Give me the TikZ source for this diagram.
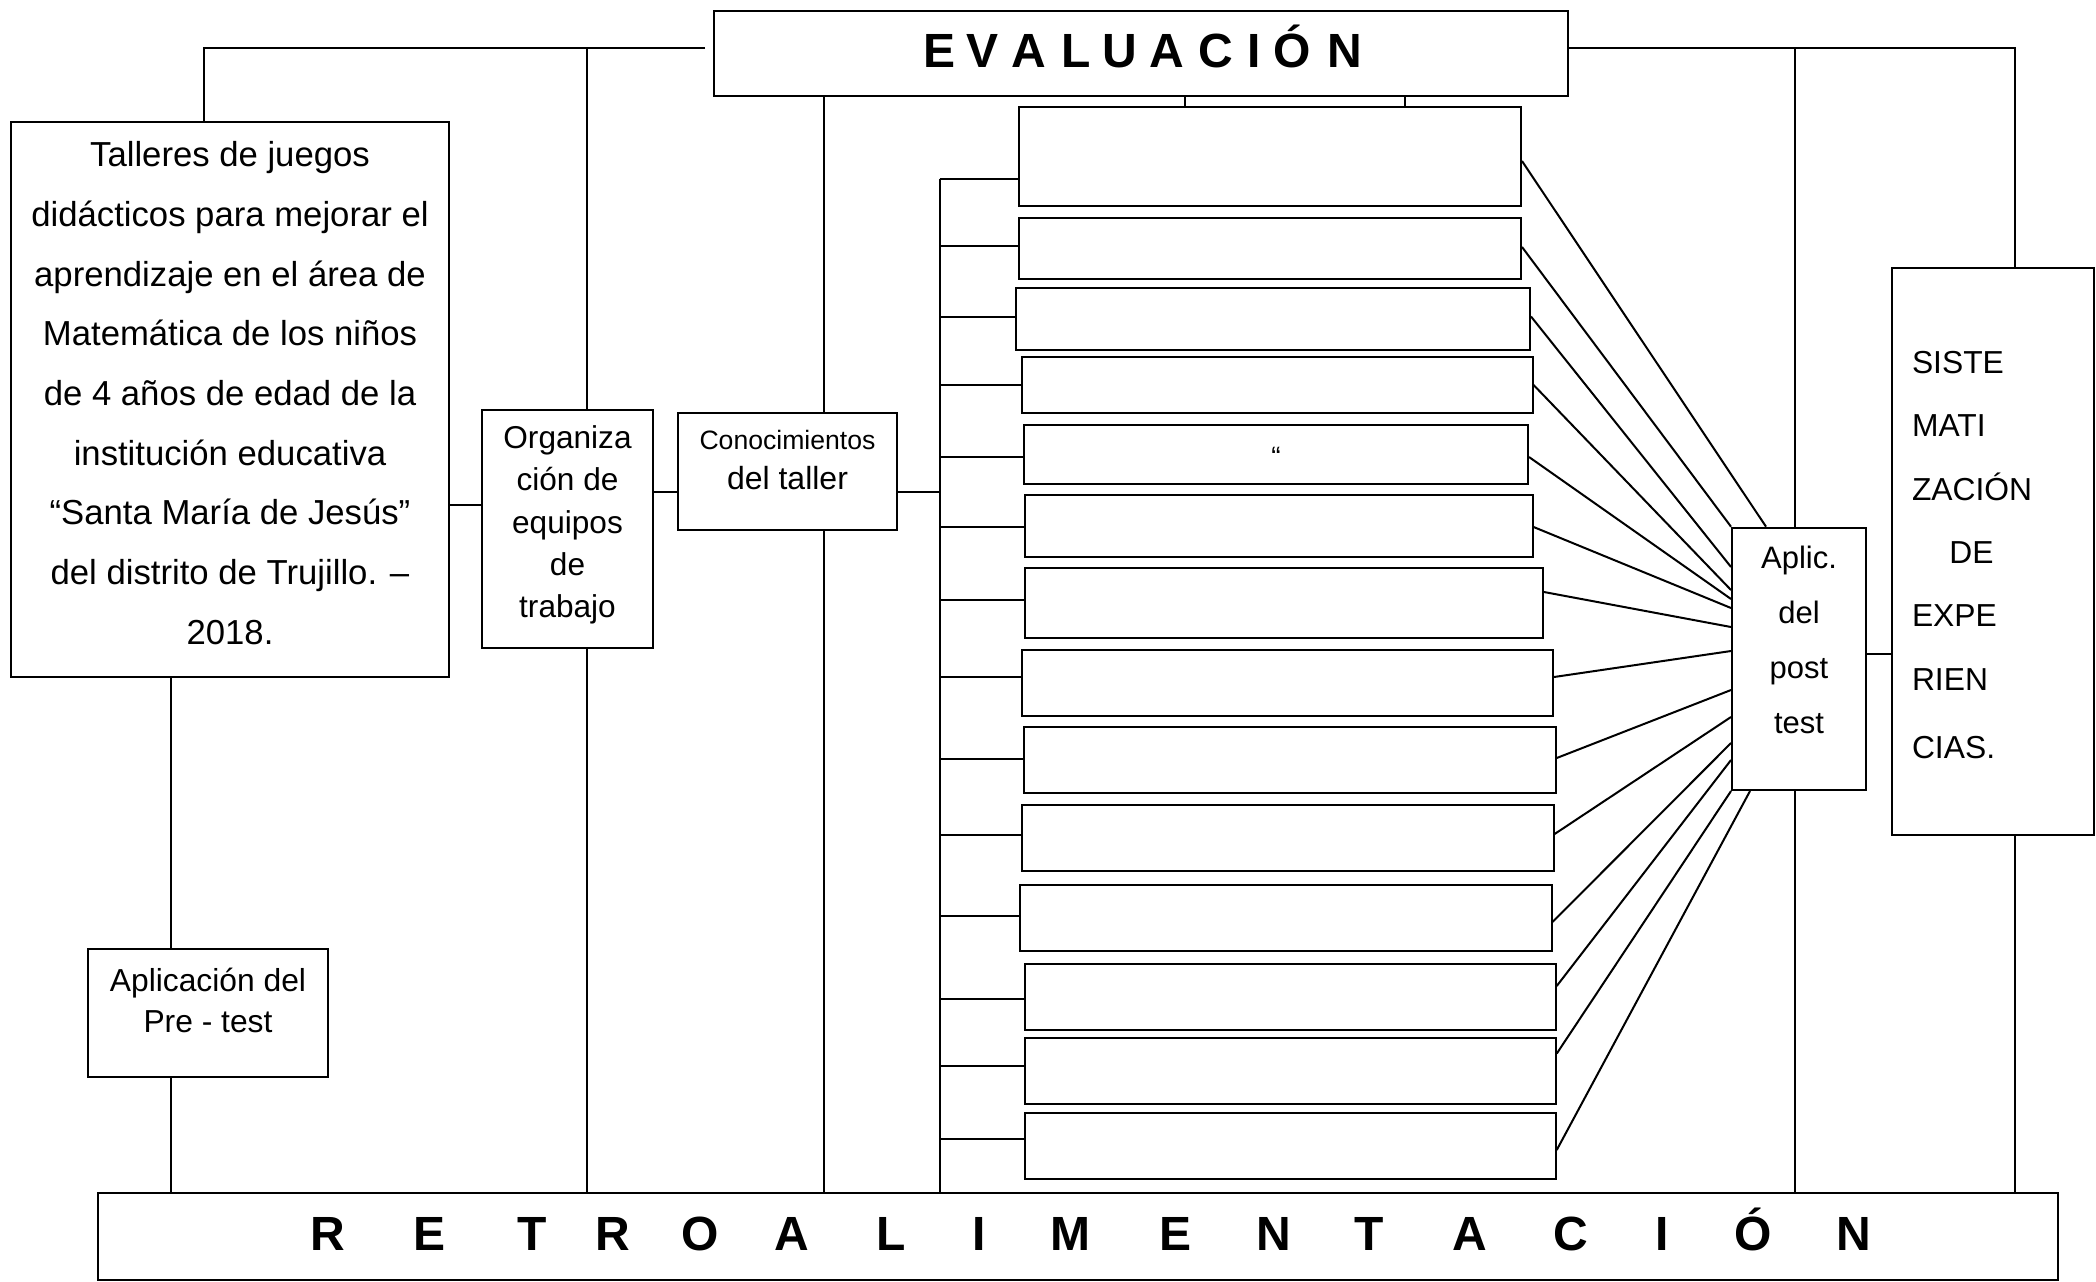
\documentclass[tikz,border=0pt]{standalone}
\usepackage{fontspec}
\setmainfont{Liberation Sans}
\usetikzlibrary{fit}
\begin{document}
\begin{tikzpicture}[x=0.5pt,y=-0.5pt,
  box/.style={draw, line width=1pt, inner sep=0pt, rectangle},
  ln/.style={line width=1pt},
  txt/.style={inner sep=0pt, align=center},
  big/.style={font=\bfseries\fontsize{24}{28}\selectfont, inner sep=0pt, anchor=base}]
\useasboundingbox (0,0) rectangle (2096,1281);
\fill[white] (0,0) rectangle (2096,1281);

% main boxes
\node[box, fit={(714,11) (1568,95.5)}] (eval) {};
\node[box, fit={(98,1193) (2058,1280)}] (retro) {};
\node[box, fit={(11,122) (449,677)}] (talleres) {};
\node[box, fit={(482,410) (653,648)}] (org) {};
\node[box, fit={(678,413) (897,530)}] (conoc) {};
\node[box, fit={(88,949) (328,1077)}] (pre) {};
\node[box, fit={(1732,527.7) (1866,790)}] (aplic) {};
\node[box, fit={(1892,268) (2094,835)}] (siste) {};

% 14 empty boxes
\foreach \xa/\ya/\xb/\yb [count=\i] in {
  1019/107/1521/206, 1019/218/1521/278.6, 1016/287.5/1530/350,
  1021.7/357/1532.6/413, 1024/424.6/1528/483.5, 1024.5/494.6/1532.6/557,
  1024.5/568/1543/638, 1021.7/650/1553/715.6, 1024/726.5/1555.7/792.9,
  1021.7/805/1553.6/871, 1019.6/885/1551.5/951, 1024.5/963.5/1555.7/1030,
  1024.5/1038/1555.7/1104, 1024.5/1113/1555.7/1179}
  \node[box, fit={(\xa,\ya) (\xb,\yb)}] (b\i) {};

% texts
\foreach \l/\x [count=\i] in {E/939,V/982,A/1029,L/1076,U/1120,A/1167,C/1216,I/1254,Ó/1292,N/1345}
  \node[big] (e\i) at (\x,67.3) {\l};
\foreach \l/\x [count=\i] in {R/328,E/430,T/532,R/613,O/700,A/792,L/891,I/979,M/1070,E/1175,N/1274,T/1369,A/1470,C/1571,I/1662,Ó/1753,N/1854}
  \node[big] (r\i) at (\x,1250) {\l};

\node[txt, font=\fontsize{17.35}{29.85}\selectfont] (ttall) at (230,393) {Talleres de juegos\\didácticos para mejorar el\\aprendizaje en el área de\\Matemática de los niños\\de 4 años de edad de la\\institución educativa\\“Santa María de Jesús”\\del distrito de Trujillo. –\\2018.};
\node[txt, font=\fontsize{15.8}{21.2}\selectfont] (torg) at (567.5,525) {Organiza\\ción de\\equipos\\de\\trabajo};
\node[txt, font=\fontsize{13.3}{16}\selectfont] (tcon1) at (787.5,440) {Conocimientos};
\node[txt, font=\fontsize{16}{19}\selectfont] (tcon2) at (787.5,478) {del taller};
\node[txt, font=\fontsize{15.9}{20.5}\selectfont] (tpre) at (208,1000.5) {Aplicación del\\Pre - test};
\node[txt, font=\fontsize{15.5}{27.5}\selectfont] (tapl) at (1799,640) {Aplic.\\del\\post\\test};
\node[txt, align=left, anchor=west, font=\fontsize{15.9}{31.7}\selectfont] (tsis) at (1911.6,555) {SISTE\\MATI\\ZACIÓN\\\hspace{18.7pt}DE\\EXPE\\RIEN\\[2.5pt]CIAS.};
\node[inner sep=0pt, anchor=base, font=\fontsize{14}{16}\selectfont] (q) at (1276,466) {“};

% named coordinates
\coordinate (evl) at (705,48);
\coordinate (evr) at (eval.east |- 0,48);
\coordinate (xa) at (203.6,0);
\coordinate (xb) at (586.6,0);
\coordinate (xc) at (824,0);
\coordinate (bx) at (939.6,0);
\coordinate (xd) at (1795,0);
\coordinate (xe) at (2015,0);
\coordinate (xf) at (171.4,0);

% top-left tree
\draw[ln] (evl) -| (xa |- talleres.north);
\draw[ln] (xb |- evl) -- (xb |- org.north);
\draw[ln] (xb |- org.south) -- (xb |- retro.north);
\draw[ln] (xc |- eval.south) -- (xc |- conoc.north);
\draw[ln] (xc |- conoc.south) -- (xc |- retro.north);
\draw[ln] (talleres.east |- 0,505) -- (org.west |- 0,505);
\draw[ln] (org.east |- 0,492) -- (conoc.west |- 0,492);
\draw[ln] (conoc.east |- 0,492) -- (bx |- 0,492);
\draw[ln] (bx |- 0,178.6) -- (bx |- retro.north);
\draw[ln] (xf |- talleres.south) -- (xf |- pre.north);
\draw[ln] (xf |- pre.south) -- (xf |- retro.north);

% small links eval -> box 1
\draw[ln] (eval.south -| 1184.5,0) -- (b1.north -| 1184.5,0);
\draw[ln] (eval.south -| 1405,0) -- (b1.north -| 1405,0);

% stubs
\foreach \i/\y in {1/178.6,2/246,3/316.5,4/384.5,5/457,6/527,7/600.4,8/677,9/758.6,10/834.7,11/916.4,12/999,13/1065.7,14/1139}
  \draw[ln] (bx |- 0,\y) -- (b\i.west |- 0,\y);

% right side
\draw[ln] (evr) -| (xe |- siste.north);
\draw[ln] (xd |- evr) -- (xd |- aplic.north);
\draw[ln] (xd |- aplic.south) -- (xd |- retro.north);
\draw[ln] (xe |- siste.south) -- (xe |- retro.north);
\draw[ln] (aplic.east |- 0,654) -- (siste.west |- 0,654);

% fan
\draw[ln] (b1.east |- 0,161) -- (aplic.north -| 1766,0);
\draw[ln] (b2.east |- 0,247) -- (aplic.north west);
\draw[ln] (b3.east |- 0,316.5) -- (aplic.west |- 0,567);
\draw[ln] (b4.east |- 0,385) -- (aplic.west |- 0,590);
\draw[ln] (b5.east |- 0,457) -- (aplic.west |- 0,599);
\draw[ln] (b6.east |- 0,527) -- (aplic.west |- 0,608);
\draw[ln] (b7.east |- 0,592) -- (aplic.west |- 0,627);
\draw[ln] (b8.east |- 0,677) -- (aplic.west |- 0,651);
\draw[ln] (b9.east |- 0,758) -- (aplic.west |- 0,690);
\draw[ln] (b10.east |- 0,834) -- (aplic.west |- 0,717);
\draw[ln] (b11.east |- 0,922) -- (aplic.west |- 0,743);
\draw[ln] (b12.east |- 0,986) -- (aplic.west |- 0,760);
\draw[ln] (b13.east |- 0,1053.6) -- (aplic.south west);
\draw[ln] (b14.east |- 0,1150) -- (aplic.south -| 1750,0);
\end{tikzpicture}
\end{document}
